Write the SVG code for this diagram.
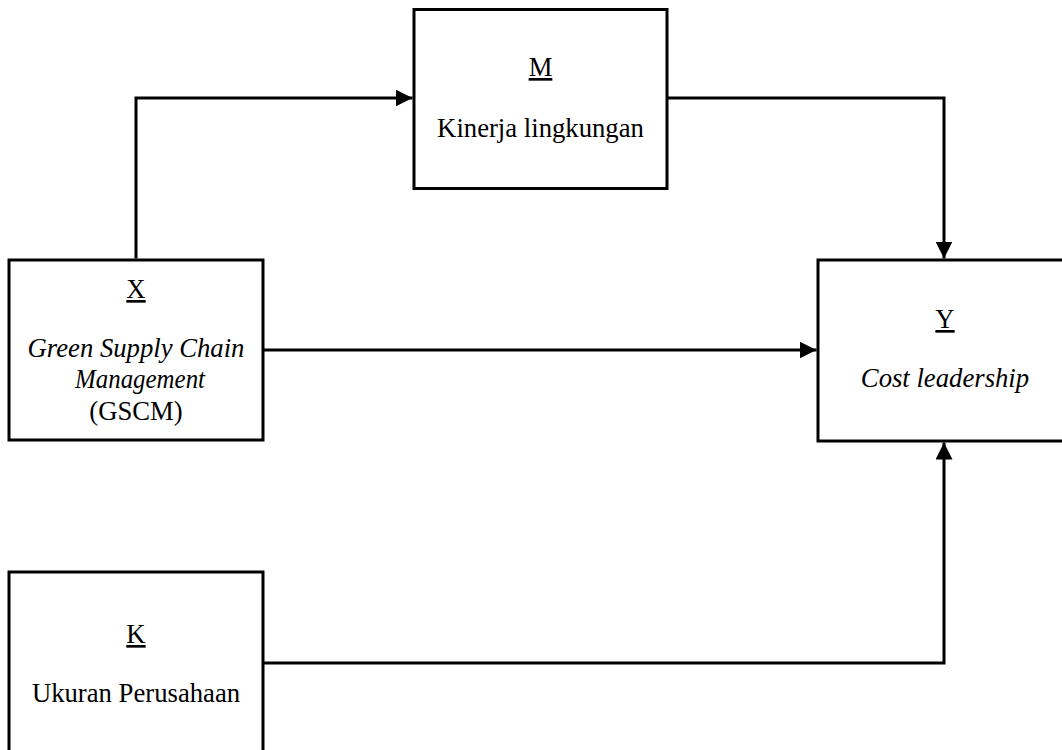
<svg xmlns="http://www.w3.org/2000/svg" width="1062" height="750" viewBox="0 0 1062 750">
<style>
.box{fill:#fff;stroke:#000;stroke-width:3}
.conn{fill:none;stroke:#000;stroke-width:3;marker-end:url(#arr)}
text{font-family:"Liberation Serif","Times New Roman",serif;font-size:26.7px;fill:#000;text-anchor:middle}
.it{font-style:italic}
.ul{text-decoration:underline}
</style>
<defs>
<marker id="arr" markerUnits="userSpaceOnUse" markerWidth="17" markerHeight="17" refX="17" refY="8.5" orient="auto">
<path d="M0,0 L17,8.5 L0,17 Z" fill="#000"/>
</marker>
</defs>
<rect width="1062" height="750" fill="#fff"/>
<g id="connectors">
<path class="conn" d="M136,258.5 V98 H412.5"/>
<path class="conn" d="M667,98 H944 V258.5"/>
<path class="conn" d="M263,350 H816.5"/>
<path class="conn" d="M263,663 H944 V442.5"/>
</g>
<g id="node-M">
<rect class="box" x="414" y="9.5" width="253" height="179"/>
<text class="ul" x="540.5" y="76">M</text>
<text x="540.5" y="137">Kinerja lingkungan</text>
</g>
<g id="node-X">
<rect class="box" x="9" y="260" width="254" height="180"/>
<text class="ul" x="136" y="298">X</text>
<text class="it" x="136" y="357">Green Supply Chain</text>
<text class="it" x="140" y="388" textLength="130" lengthAdjust="spacingAndGlyphs">Management</text>
<text x="136" y="420">(GSCM)</text>
</g>
<g id="node-Y">
<rect class="box" x="818" y="260" width="254" height="181"/>
<text class="ul" x="945" y="328">Y</text>
<text class="it" x="945" y="387">Cost leadership</text>
</g>
<g id="node-K">
<rect class="box" x="9" y="572" width="254" height="190"/>
<text class="ul" x="136" y="643">K</text>
<text x="136" y="702">Ukuran Perusahaan</text>
</g>
</svg>
